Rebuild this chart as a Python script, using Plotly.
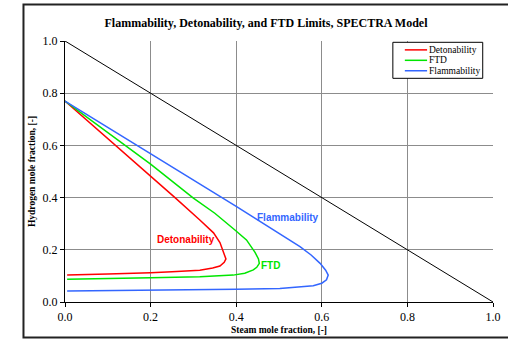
import plotly.graph_objects as go

# ---- data ----
det_x = [0.0, 0.1, 0.2, 0.257, 0.315, 0.347, 0.362, 0.368, 0.374, 0.376, 0.372, 0.362, 0.345, 0.315, 0.25, 0.2, 0.1, 0.005]
det_y = [0.77, 0.627, 0.482, 0.4, 0.314, 0.265, 0.228, 0.2, 0.18, 0.165, 0.152, 0.138, 0.13, 0.122, 0.116, 0.112, 0.107, 0.103]

ftd_x = [0.0, 0.1, 0.2, 0.3, 0.35, 0.397, 0.424, 0.444, 0.452, 0.454, 0.448, 0.44, 0.42, 0.393, 0.315, 0.2, 0.1, 0.005]
ftd_y = [0.77, 0.65, 0.528, 0.398, 0.34, 0.276, 0.238, 0.19, 0.165, 0.148, 0.133, 0.123, 0.11, 0.103, 0.097, 0.093, 0.09, 0.087]

fl_x = [0.0, 0.1, 0.2, 0.3, 0.362, 0.4, 0.44, 0.487, 0.549, 0.575, 0.596, 0.609, 0.615, 0.611, 0.6, 0.58, 0.549, 0.502, 0.4, 0.315, 0.222, 0.1, 0.005]
fl_y = [0.77, 0.67, 0.57, 0.47, 0.405, 0.366, 0.324, 0.276, 0.212, 0.18, 0.148, 0.122, 0.103, 0.085, 0.072, 0.062, 0.057, 0.052, 0.049, 0.047, 0.046, 0.044, 0.042]

diag_x = [0.0, 1.0]
diag_y = [1.0, 0.0]

series_names = ["Detonability", "FTD", "Flammability"]
series_colors = ["#FF0000", "#00E600", "#3366FF"]
label_pos = [(0.283, 0.238), (0.479, 0.138), (0.521, 0.322)]

ticks = [0.0, 0.2, 0.4, 0.6, 0.8, 1.0]
tick_text = ["0.0", "0.2", "0.4", "0.6", "0.8", "1.0"]

fig = go.Figure()
fig.add_trace(go.Scatter(x=diag_x, y=diag_y, mode="lines",
                         line=dict(color="black", width=1), showlegend=False, hoverinfo="skip"))
for xs, ys, name, col in zip([det_x, ftd_x, fl_x], [det_y, ftd_y, fl_y], series_names, series_colors):
    fig.add_trace(go.Scatter(x=xs, y=ys, mode="lines", name=name,
                             line=dict(color=col, width=1.5), showlegend=False))

# inline curve labels
for (lx, ly), name, col in zip(label_pos, series_names, series_colors):
    fig.add_annotation(x=lx, y=ly, xref="x", yref="y", text="<b>%s</b>" % name, showarrow=False,
                       font=dict(family="Liberation Sans, Arial", size=10, color=col))

# manual legend box
lx0, lx1, ly0, ly1 = 0.766, 0.976, 0.857, 0.995
fig.add_shape(type="rect", xref="paper", yref="paper", x0=lx0, x1=lx1, y0=ly0, y1=ly1,
              line=dict(color="black", width=1), fillcolor="white", layer="above")
rows = [0.966, 0.926, 0.886]
for yy, name, col in zip(rows, series_names, series_colors):
    fig.add_shape(type="line", xref="paper", yref="paper", x0=0.794, x1=0.846, y0=yy, y1=yy,
                  line=dict(color=col, width=1.5), layer="above")
    fig.add_annotation(x=0.848, y=yy, xref="paper", yref="paper", text=name, showarrow=False,
                       xanchor="left", yanchor="middle", borderpad=0,
                       font=dict(family="Liberation Serif, Times New Roman", size=9.5, color="black"))

# outer frame
fig.add_shape(type="rect", xref="paper", yref="paper", x0=-0.097, x1=1.06, y0=-0.136, y1=1.140,
              line=dict(color="#222222", width=2), fillcolor="rgba(0,0,0,0)", layer="above")

axis_common = dict(range=[0, 1], tickvals=ticks, ticktext=tick_text, showgrid=True, automargin=False,
                   gridcolor="#8c8c8c", gridwidth=1, zeroline=False, showline=True,
                   linecolor="black", linewidth=1, ticks="outside", ticklen=4, tickcolor="black",
                   tickfont=dict(family="Liberation Serif, Times New Roman", size=12, color="black"))

fig.update_xaxes(**axis_common,
                 title=dict(text="<b>Steam mole fraction, [-]</b>", standoff=2,
                            font=dict(family="Liberation Serif, Times New Roman", size=9.5, color="black")))
fig.update_yaxes(**axis_common,
                 title=dict(text="<b>Hydrogen mole fraction, [-]</b>", standoff=5,
                            font=dict(family="Liberation Serif, Times New Roman", size=9.5, color="black")))

fig.update_layout(
    width=508, height=339,
    margin=dict(l=65, r=15, t=41, b=37, autoexpand=False),
    paper_bgcolor="white", plot_bgcolor="white",
    showlegend=False,
    title=dict(text="<b>Flammability, Detonability, and FTD Limits, SPECTRA Model</b>",
               x=266 / 508, xanchor="center", y=1 - 23 / 339, yanchor="middle",
               font=dict(family="Liberation Serif, Times New Roman", size=12, color="black")),
)

fig.write_html("out.html")
